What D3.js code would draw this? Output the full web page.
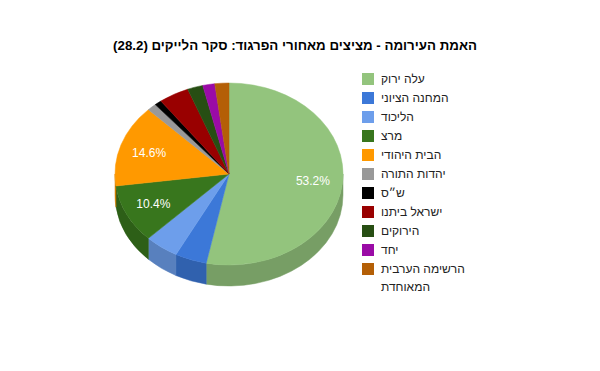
<!DOCTYPE html>
<html>
<head>
<meta charset="utf-8">
<script src="https://cdn.jsdelivr.net/npm/d3@7"></script>
<style>
  body { margin: 0; background: #fff; }
  text { font-family: Arial, "Liberation Sans", sans-serif; }
</style>
</head>
<body>
<svg id="chart" width="600" height="371"></svg>
<script>
// survey data (percent of likes)
const title = 'האמת העירומה - מציצים מאחורי הפרגוד: סקר הלייקים (28.2)';
const parties = ['עלה ירוק', 'המחנה הציוני', 'הליכוד', 'מרצ', 'הבית היהודי', 'יהדות התורה',
  'ש״ס', 'ישראל ביתנו', 'הירוקים', 'יחד', 'הרשימה הערבית המאוחדת'];
const shares = [53.2, 4.5, 4.8, 10.4, 14.6, 1.3, 1.0, 4.3, 2.2, 1.7, 2.0];
const colors = ['#93c47d', '#3c78d8', '#6d9eeb', '#38761d', '#ff9900', '#999999',
  '#000000', '#990000', '#274e13', '#9a0ba6', '#b45f06'];

const svg = d3.select('#chart');
const cx = 229, cy = 174, rx = 114, ry = 91, depth = 21;
const k = ry / rx;

svg.append('rect').attr('width', 600).attr('height', 371).attr('fill', '#fff');

// title
svg.append('text')
  .attr('x', 295).attr('y', 50)
  .attr('direction', 'rtl')
  .attr('text-anchor', 'middle')
  .style('font-size', '13.3px')
  .style('font-weight', 'bold')
  .text(title);

const total = d3.sum(shares);
const pie = d3.pie().sort(null).value(d => d);
const slices = pie(shares);

// squashed circle -> ellipse
const g = svg.append('g').attr('transform', 'translate(' + cx + ',' + cy + ') scale(1,' + k + ')');

// front wall of the pie (visible half only)
const dz = depth / k;
slices.forEach((s, i) => {
  const a0 = Math.max(s.startAngle, Math.PI / 2);
  const a1 = Math.min(s.endAngle, Math.PI * 1.5);
  if (a1 <= a0) return;
  const p = d3.path();
  p.moveTo(rx * Math.sin(a0), -rx * Math.cos(a0));
  p.arc(0, 0, rx, a0 - Math.PI / 2, a1 - Math.PI / 2);
  p.lineTo(rx * Math.sin(a1), -rx * Math.cos(a1) + dz);
  p.arc(0, dz, rx, a1 - Math.PI / 2, a0 - Math.PI / 2, true);
  p.closePath();
  const c = d3.color(colors[i]).darker(0.6);
  g.append('path')
    .attr('d', p.toString())
    .attr('fill', c)
    .attr('stroke', c)
    .attr('stroke-width', 0.5)
    .attr('vector-effect', 'non-scaling-stroke');
});

// top faces
const arc = d3.arc().innerRadius(0).outerRadius(rx);
g.selectAll('path.top')
  .data(slices)
  .join('path')
  .attr('class', 'top')
  .attr('d', arc)
  .attr('fill', (d, i) => colors[i])
  .attr('stroke', (d, i) => colors[i])
  .attr('stroke-width', 0.5)
  .attr('vector-effect', 'non-scaling-stroke');

// slice labels for large slices
const labelArc = d3.arc().innerRadius(rx * 0.74).outerRadius(rx * 0.74);
const fmt = d3.format('.1f');
svg.selectAll('text.slice')
  .data(slices.filter(d => d.value / total >= 0.1))
  .join('text')
  .attr('class', 'slice')
  .attr('x', d => cx + labelArc.centroid(d)[0])
  .attr('y', d => cy + labelArc.centroid(d)[1] * k)
  .attr('dy', '0.35em')
  .attr('text-anchor', 'middle')
  .attr('fill', '#fff')
  .style('font-size', '12px')
  .text(d => fmt(d.value / total * 100) + '%');

// legend
const legend = svg.append('g').attr('transform', 'translate(362,73)');
const rowH = 19, maxW = 90;
parties.forEach((name, i) => {
  const row = legend.append('g').attr('transform', 'translate(0,' + (i * rowH) + ')');
  row.append('rect')
    .attr('width', 12).attr('height', 12)
    .attr('fill', colors[i]);
  const t = row.append('text')
    .attr('x', 19).attr('y', 6)
    .attr('dy', '0.35em')
    .attr('fill', '#222')
    .style('font-size', '12px');
  // wrap long names
  const words = name.split(' ');
  let line = [];
  let tspan = t.append('tspan').attr('x', 19);
  words.forEach(w => {
    line.push(w);
    tspan.text(line.join(' '));
    if (tspan.node().getComputedTextLength() > maxW && line.length > 1) {
      line.pop();
      tspan.text(line.join(' '));
      line = [w];
      tspan = t.append('tspan').attr('x', 19).attr('dy', '18').text(w);
    }
  });
});
</script>
</body>
</html>
